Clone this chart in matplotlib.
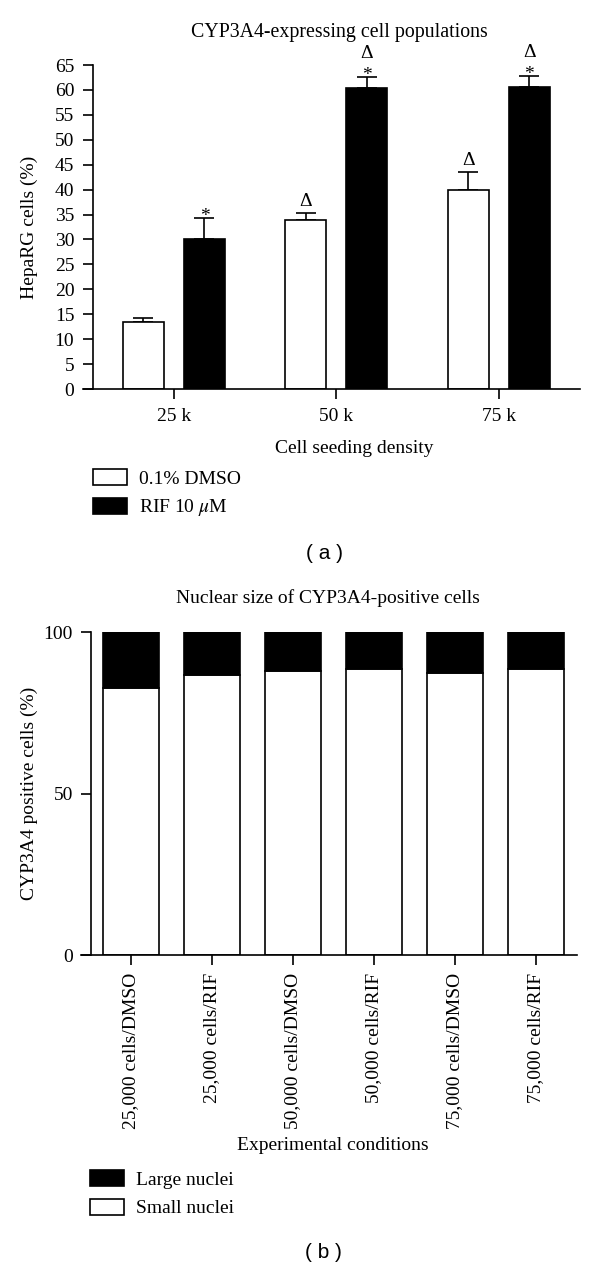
import matplotlib
matplotlib.use("Agg")
import matplotlib.pyplot as plt
from matplotlib.patches import Patch
import numpy as np

plt.rcParams['font.family'] = ['Liberation Serif', 'DejaVu Serif']
plt.rcParams['mathtext.fontset'] = 'stix'

# Panel (a) data
densities = ['25 k', '50 k', '75 k']
dmso_mean = [13.5, 34.0, 40.0]
dmso_err = [0.8, 1.3, 3.5]
rif_mean = [30.0, 60.3, 60.6]
rif_err = [4.3, 2.3, 2.2]
# significance marks (bottom to top) over each bar
dmso_marks = [[], ['\u0394'], ['\u0394']]
rif_marks = [['*'], ['*', '\u0394'], ['*', '\u0394']]
yticks_a = list(range(0, 66, 5))

# Panel (b) data
conditions = ['25,000 cells/DMSO', '25,000 cells/RIF', '50,000 cells/DMSO',
              '50,000 cells/RIF', '75,000 cells/DMSO', '75,000 cells/RIF']
small_nuclei = [82.7, 86.7, 87.9, 88.5, 87.2, 88.5]
large_nuclei = [100 - v for v in small_nuclei]
yticks_b = [0, 50, 100]

W, H = 600, 1269
fig = plt.figure(figsize=(W / 100, H / 100), dpi=100)


def fig_rect(x0, x1, ytop, ybot):
    return [x0 / W, 1 - ybot / H, (x1 - x0) / W, (ybot - ytop) / H]


def mark_bar(ax, xi, top, marks):
    # baseline offsets in points above the error bar cap
    if marks == ['\u0394']:
        offs = [5.0]
    elif marks == ['*']:
        offs = [-2.0]
    else:
        offs = [-2.0, 13.5]
    for mk, o in zip(marks, offs):
        ax.annotate(mk, (xi, top), xytext=(0, o), textcoords='offset points',
                    ha='center', va='baseline', fontsize=14, annotation_clip=False)


# ---------------- panel (a) ----------------
ax1 = fig.add_axes(fig_rect(83, 580, 65, 389))
x = np.arange(len(densities))
bw = 0.252
off = 0.188
ax1.bar(x - off, dmso_mean, bw, color='white', edgecolor='black', linewidth=1.2, zorder=2)
ax1.bar(x + off, rif_mean, bw, color='black', edgecolor='black', linewidth=1.2, zorder=2)
ax1.errorbar(x - off, dmso_mean, yerr=[np.zeros(3), dmso_err], fmt='none',
             ecolor='black', elinewidth=1.2, capsize=7, capthick=1.2, zorder=1)
ax1.errorbar(x + off, rif_mean, yerr=[np.zeros(3), rif_err], fmt='none',
             ecolor='black', elinewidth=1.2, capsize=7, capthick=1.2, zorder=1)

for i in range(len(densities)):
    mark_bar(ax1, x[i] - off, dmso_mean[i] + dmso_err[i], dmso_marks[i])
    mark_bar(ax1, x[i] + off, rif_mean[i] + rif_err[i], rif_marks[i])

ax1.set_xlim(-0.56, 2.5)
ax1.set_ylim(0, 65)
ax1.set_yticks(yticks_a)
ax1.set_xticks(x)
ax1.set_xticklabels(densities)
ax1.spines['top'].set_visible(False)
ax1.spines['right'].set_visible(False)
ax1.spines['left'].set_position(('data', -0.498))
for s in ['left', 'bottom']:
    ax1.spines[s].set_linewidth(1.2)
ax1.tick_params(direction='out', length=7, width=1.2, labelsize=14, pad=6.5)
ax1.set_ylabel('HepaRG cells (%)', fontsize=14)
ax1.yaxis.set_label_coords((38 - 83) / 497, 0.5)
ax1.set_xlabel('Cell seeding density', fontsize=14)
ax1.xaxis.set_label_coords((354 - 83) / 497, -(440 - 389) / 324)
fig.text(339 / W, 1 - 33 / H, 'CYP3A4-expressing cell populations', ha='center', va='center', fontsize=14.3)

fig.legend(handles=[Patch(facecolor='white', edgecolor='black', linewidth=1.2, label='0.1% DMSO'),
                    Patch(facecolor='black', edgecolor='black', linewidth=1.2, label='RIF 10 $\\mu$M')],
           loc='upper left', bbox_to_anchor=(93 / W, 1 - 469 / H), frameon=False,
           fontsize=14, handlelength=1.75, handleheight=0.9, handletextpad=0.6,
           labelspacing=0.5, borderpad=0, borderaxespad=0)

fig.text(324 / W, 1 - 553 / H, '( a )', ha='center', va='center', fontsize=15, family='Liberation Sans')

# ---------------- panel (b) ----------------
ax2 = fig.add_axes(fig_rect(81, 577, 632, 955))
xb = np.arange(len(conditions))
bw2 = 0.68
ax2.bar(xb, small_nuclei, bw2, color='white', edgecolor='black', linewidth=1.2)
ax2.bar(xb, large_nuclei, bw2, bottom=small_nuclei, color='black', edgecolor='black', linewidth=1.2)
ax2.set_xlim(-0.617, 5.506)
ax2.set_ylim(0, 100)
ax2.set_yticks(yticks_b)
ax2.set_xticks(xb)
ax2.set_xticklabels(conditions, rotation=90)
ax2.spines['top'].set_visible(False)
ax2.spines['right'].set_visible(False)
ax2.spines['left'].set_position(('data', -0.494))
for s in ['left', 'bottom']:
    ax2.spines[s].set_linewidth(1.2)
ax2.tick_params(direction='out', length=7, width=1.2, labelsize=14, pad=6)
ax2.set_ylabel('CYP3A4 positive cells (%)', fontsize=14)
ax2.yaxis.set_label_coords((38 - 81) / 496, 0.5)
ax2.set_xlabel('Experimental conditions', fontsize=14)
ax2.xaxis.set_label_coords((333 - 81) / 496, -(1137 - 955) / 323)
fig.text(328 / W, 1 - 598 / H, 'Nuclear size of CYP3A4-positive cells', ha='center', va='center', fontsize=14)

fig.legend(handles=[Patch(facecolor='black', edgecolor='black', linewidth=1.2, label='Large nuclei'),
                    Patch(facecolor='white', edgecolor='black', linewidth=1.2, label='Small nuclei')],
           loc='upper left', bbox_to_anchor=(90 / W, 1 - 1170 / H), frameon=False,
           fontsize=14, handlelength=1.75, handleheight=0.9, handletextpad=0.6,
           labelspacing=0.5, borderpad=0, borderaxespad=0)

fig.text(323 / W, 1 - 1253 / H, '( b )', ha='center', va='center', fontsize=15, family='Liberation Sans')

fig.savefig('out.png', dpi=100)
